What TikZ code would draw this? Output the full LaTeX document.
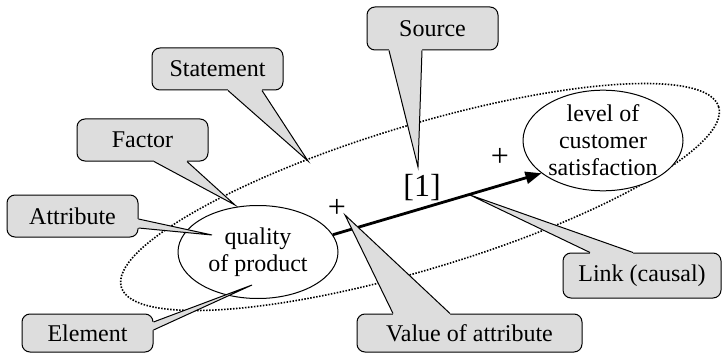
\documentclass[tikz,border=0pt]{standalone}
\usepackage{fontspec}
\setmainfont{Liberation Serif}
\usetikzlibrary{shapes.geometric,calc,arrows.meta}
\definecolor{callgray}{RGB}{221,221,221}
\tikzset{
  callbox/.style={draw, fill=callgray, rounded corners=4pt, line width=0.5pt, inner sep=0pt,
    font=\fontsize{12}{14}\selectfont},
  callline/.style={line width=0.5pt, line join=miter},
  conc/.style={ellipse, draw, fill=white, line width=0.5pt, inner sep=0pt, align=center,
    font=\fontsize{12}{13.5}\selectfont},
  stmtell/.style={ellipse, draw, line width=0.8pt, dash pattern=on 0.75pt off 0.75pt, inner sep=0pt},
  causal/.style={line width=1.4pt, -{Triangle[length=8pt,width=6pt]}},
  bigtext/.style={inner sep=0pt, font=\fontsize{16}{18}\selectfont}
}
\newcommand\callptr[6]{% node, offset A, offset B, tip, inward shift, name
  \coordinate (#6A) at ($(#1)+#2$);
  \coordinate (#6B) at ($(#1)+#3$);
  \fill[callgray] ($(#6A)+#5$) -- (#6A) -- (#4) -- (#6B) -- ($(#6B)+#5$) -- cycle;
  \draw[callline] (#6A) -- (#4) -- (#6B);
}
\begin{document}
\begin{tikzpicture}[x=0.5pt,y=-0.5pt]
\useasboundingbox (0,0) rectangle (722,353);
\fill[white] (0,0) rectangle (722,353);
% statement ellipse
\node[stmtell, rotate=16.8, minimum width=312pt, minimum height=72pt] (stmt) at (420,197) {};
% concepts
\node[conc, minimum width=80pt, minimum height=46.5pt] (qual) at (258,252) {quality\\of product};
\node[conc, minimum width=80pt, minimum height=47.5pt] (lvl) at (603,140.5) {level of\\customer\\satisfaction};
% causal link
\draw[causal] (qual.13) -- (lvl.208);
\node[bigtext] (plusa) at (337,208) {+};
\node[bigtext] (plusb) at (500,157) {+};
\node[bigtext] (ref) at (422,188) {[1]};
% tips
\coordinate (srcT) at (418,167);
\coordinate (stmT) at (308,161);
\coordinate (facT) at (235,205);
\coordinate (attT) at (212,235);
\coordinate (eleT) at (252,285);
\coordinate (valT) at (345,215);
\coordinate (lnkT) at (470,195);
% callouts
\node[callbox, minimum width=65.5pt, minimum height=21.5pt] (src) at (432.5,28.5) {Source};
\callptr{src.south}{(-43.5,0)}{(-10.5,0)}{srcT}{(0,-1.5)}{src}
\node[callbox, minimum width=65.5pt, minimum height=21pt] (stm) at (217.5,69) {Statement};
\callptr{stm.south}{(10.5,0)}{(44.5,0)}{stmT}{(0,-1.5)}{stm}
\node[callbox, minimum width=65.5pt, minimum height=21pt] (fac) at (142.5,140) {Factor};
\callptr{fac.south}{(11.5,0)}{(44.5,0)}{facT}{(0,-1.5)}{fac}
\node[callbox, minimum width=65.5pt, minimum height=21pt] (att) at (72.5,216) {Attribute};
\callptr{att.east}{(0,3)}{(0,12)}{attT}{(-1.5,0)}{att}
\node[callbox, minimum width=65.5pt, minimum height=19pt] (ele) at (87.5,333) {Element};
\callptr{ele.east}{(0,-11)}{(0,-3)}{eleT}{(-1.5,0)}{ele}
\node[callbox, minimum width=112.5pt, minimum height=19pt] (val) at (469.5,333) {Value of attribute};
\callptr{val.north}{(-76.5,0)}{(-19.5,0)}{valT}{(0,1.5)}{val}
\node[callbox, minimum width=79pt, minimum height=22.5pt] (lnk) at (642,275.5) {Link (causal)};
\callptr{lnk.north}{(-52,0)}{(-9,0)}{lnkT}{(0,1.5)}{lnk}
\end{tikzpicture}
\end{document}
